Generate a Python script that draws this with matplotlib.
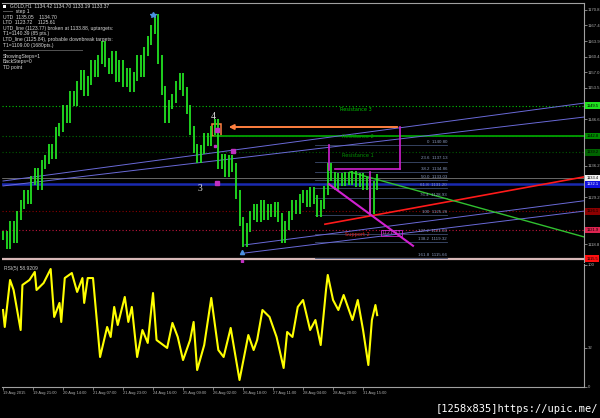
import numpy as np
import matplotlib
matplotlib.use('Agg')
import matplotlib.pyplot as plt
import matplotlib.transforms as mtrans
from matplotlib.patches import Rectangle

# GOLD H1 closes, one value every 2 bars (bar 0 = 19 Aug 2015)
bar_close = [1120.8, 1118.6, 1123.0, 1120.1, 1125.2, 1127.5, 1129.7, 1128.6, 1133.0, 1134.8,
             1131.9, 1136.4, 1137.5, 1140.1, 1138.6, 1143.7, 1144.6, 1148.6, 1146.8, 1151.9,
             1150.4, 1154.1, 1156.4, 1152.6, 1155.2, 1158.6, 1157.0, 1159.7, 1163.0, 1159.2,
             1157.5, 1160.8, 1155.7, 1158.6, 1154.8, 1157.0, 1153.5, 1156.1, 1159.7, 1157.0,
             1161.5, 1164.1, 1166.4, 1169.0, 1159.7, 1153.0, 1146.8, 1149.7, 1151.2, 1154.1,
             1155.7, 1152.6, 1148.6, 1144.1, 1140.1, 1137.9, 1139.7, 1142.4, 1141.5, 1144.1,
             1145.5, 1136.4, 1137.9, 1134.8, 1137.5, 1135.7, 1129.7, 1123.7, 1119.2, 1122.4,
             1125.2, 1126.8, 1124.6, 1127.5, 1125.2, 1126.8, 1125.9, 1127.2, 1124.6, 1120.1,
             1123.0, 1125.2, 1127.5, 1126.4, 1129.0, 1129.7, 1128.1, 1130.4, 1128.6, 1125.9,
             1127.5, 1130.8, 1135.7, 1133.9, 1131.7, 1133.5, 1132.6, 1133.9, 1133.0, 1134.1,
             1132.4, 1133.5, 1131.7, 1132.6, 1126.4, 1131.9, 1133.4]
bar_pos = np.arange(len(bar_close)) * 2

rsi_bar = [0, 1, 4, 6, 10, 11, 15, 18, 19, 23, 27, 29, 32, 33, 35, 39, 42, 45, 46, 48,
           51, 55, 59, 61, 63, 65, 69, 71, 73, 76, 79, 82, 85, 87, 93, 96, 99, 102, 106, 108,
           110, 114, 118, 122, 125, 129, 134, 139, 142, 144, 147, 151, 155, 159, 161, 164, 167, 170, 174, 177,
           180, 183, 184, 187, 190, 193, 195, 198, 201, 204, 207, 209, 211, 212]
rsi_val = [63.1, 49.2, 87.7, 79.5, 46.7, 83.6, 87.7, 94.3, 79.5, 85.2, 96.7, 57.4, 68.9, 53.3, 89.3, 93.4, 77.9, 89.3, 68.9, 89.3,
           89.3, 24.6, 49.2, 41.0, 65.6, 50.8, 73.8, 53.3, 65.6, 24.6, 46.7, 36.1, 77.0, 38.5, 32.0, 52.5, 41.0, 22.1, 38.5, 53.3,
           13.9, 34.4, 73.0, 30.3, 24.6, 48.4, 5.7, 42.6, 30.3, 38.5, 63.1, 57.4, 41.0, 15.6, 45.1, 41.0, 65.6, 71.3, 46.7, 54.9,
           34.4, 79.5, 91.8, 71.3, 63.1, 75.4, 67.2, 54.9, 71.3, 46.7, 18.0, 54.9, 67.2, 58.9]

time_ticks = [0, 17, 34, 51, 68, 85, 102, 119, 136, 153, 170, 187, 204]
time_labels = ['19 Aug 2015', '19 Aug 21:00', '20 Aug 14:00', '21 Aug 07:00', '21 Aug 23:00',
               '24 Aug 16:00', '25 Aug 09:00', '26 Aug 02:00', '26 Aug 18:00', '27 Aug 11:00',
               '28 Aug 04:00', '28 Aug 20:00', '31 Aug 15:00']

# scale labels not hidden behind the level boxes
price_ticks = [1170.85, 1167.38, 1163.91, 1160.44, 1156.97, 1153.50, 1146.56,
               1136.15, 1129.21, 1118.80]

# pivot levels and price lines
res3, res2, res1 = 1149.5, 1142.8, 1139.2
sup1, sup2, sup3 = 1126.1, 1121.9, 1115.5
bid = 1133.37
blue_level = 1132.1

fib_pct = ['0', '23.6', '38.2', '50.0', '61.8', '76.4', '100', '127.2', '138.2', '161.8']
fib_price = [1140.80, 1137.13, 1134.86, 1133.03, 1131.20, 1128.93, 1125.26, 1121.03, 1119.32, 1115.66]

# drawn trend lines (bar0, price0, bar1, price1)
chan_up = [(0, 1132.8, 329, 1150.1), (0, 1131.7, 329, 1147.0)]
chan_low = [(137, 1118.6, 329, 1128.4), (137, 1116.8, 329, 1126.1)]
red_line = (182.4, 1123.2, 329, 1133.7)
green_line = (196.6, 1134.8, 329, 1120.4)
magenta_line = (184.7, 1132.1, 232.3, 1118.4)

info_lines = ['     GOLD,H1  1134.42 1134.70 1133.19 1133.37',
              '——  step 1',
              'UTD  1135.05    1134.70',
              'LTD  1123.72    1125.61',
              'UTD_line (1123.77) broken at 1133.88, uptargets:',
              'T1=1140.39 (85 pts.)',
              'LTD_line (1125.84), probable downbreak targets:',
              'T1=1109.00 (1680pts.)',
              '————————————————',
              'ShowingSteps=1',
              'BackSteps=0',
              'TD point']

W, H = 600, 418
fig = plt.figure(figsize=(6, 4.18), dpi=100, facecolor='black')

def px2bar(x):
    return (x - 3) / 1.765

def py2price(y):
    return 1140.80 - (y - 145) / 4.5

ax = fig.add_axes([2 / W, 1 - 262 / H, 582 / W, 259 / H], facecolor='black')
ax.set_xlim(px2bar(2), px2bar(584))
ax.set_ylim(py2price(262), py2price(3))

# horizontal levels
ax.axhline(res3, color='#00c800', lw=0.8, ls=(0, (1, 2)))
ax.axhline(res2, color='#007000', lw=0.8, ls=(0, (1, 2)))
ax.plot([120, 330], [res2, res2], color='#00a000', lw=1.3)
ax.axhline(res1, color='#005a00', lw=0.8, ls=(0, (1, 2)))
ax.axhline(blue_level, color='#1a2ab0', lw=1.8)
ax.axhline(bid, color='#909090', lw=0.5)
ax.axhline(sup1, color='#8b0000', lw=0.8, ls=(0, (1, 2)))
ax.axhline(sup2, color='#c0143c', lw=0.8, ls=(0, (1, 2)))
ax.axhline(sup3, color='#d8b8b8', lw=1.6)

# fibo levels
for pct, p in zip(fib_pct, fib_price):
    ax.plot([176.8, 251.6], [p, p], color='#3e4c6e', lw=0.6)
    ax.text(251.6, p + 0.25, f'{pct}  {p:.2f}', color='#8898bb', fontsize=3.2,
            ha='right', va='bottom', family='Liberation Sans')

# channels and trend lines
for b0, p0, b1, p1 in chan_up + chan_low:
    ax.plot([b0, b1], [p0, p1], color='#6a6ad8', lw=0.7)
ax.plot(red_line[::2], red_line[1::2], color='#ff1a1a', lw=1.2)
ax.plot(green_line[::2], green_line[1::2], color='#30c030', lw=1.0)

# candles
prev = np.r_[bar_close[0], bar_close[:-1]]
cur = np.array(bar_close)
lo = np.minimum(prev, cur) - 1.0
hi = np.maximum(prev, cur) + 1.0
ax.vlines(bar_pos, lo, hi, color='#22e022', lw=1.3)

# magenta construction
ax.plot(magenta_line[::2], magenta_line[1::2], color='#d020d0', lw=1.5)
ax.plot([184.7, 184.7], [1140.8, 1135.2], color='#d020d0', lw=1.2)
ax.plot([207.9, 207.9], [1134.8, 1125.26], color='#d020d0', lw=1.2)
ax.plot([188, 225], [1135.5, 1135.5], color='#d020d0', lw=1.2)
ax.plot([225, 225], [1144.8, 1135.5], color='#d020d0', lw=1.2)
ax.annotate('', xy=(126.3, 1144.8), xytext=(225, 1144.8),
            arrowprops=dict(arrowstyle='-|>', color='#ff8040', lw=1.4, mutation_scale=7))
ax.add_patch(Rectangle((118.6, 1142.9), 5.0, 2.6, fill=False, ec='#ff8040', lw=1.1))
ax.plot([121.2], [1144.1], 's', color='#c030c0', ms=2.5)
ax.plot([120.1], [1140.6], 's', color='#c030c0', ms=1.5)
ax.plot([130.3], [1139.5], 's', color='#c030c0', ms=3)
ax.plot([121.2], [1132.4], 's', color='#c030c0', ms=3)
ax.plot([135.4], [1115.1], 's', color='#c030c0', ms=1.8)
ax.plot([85], [1169.6], '*', color='#4a90e0', ms=4)
ax.plot([135.4], [1117.0], '^', color='#4a90e0', ms=3)

ax.text(119, 1146.6, '4', color='#e0e0e0', fontsize=7, family='Liberation Serif', ha='center')
ax.text(111.6, 1130.5, '3', color='#e0e0e0', fontsize=7, family='Liberation Serif', ha='center')

ax.text(191, 1149.2, 'Resistance 3', color='#00c000', fontsize=3.6, va='top')
ax.text(192, 1142.6, 'Resistance 2', color='#00a000', fontsize=3.6, va='center')
ax.text(192, 1138.4, 'Resistance 1', color='#009000', fontsize=3.6, va='center')
ax.text(194, 1120.9, 'Support 2', color='#e02020', fontsize=3.6, va='center')
ax.text(214.5, 1121.3, '1121.03', color='#d040d0', fontsize=3.4, va='center',
        bbox=dict(boxstyle='square,pad=0.1', fc='none', ec='#d020d0', lw=0.6))

# right price scale
ax.yaxis.tick_right()
ax.set_yticks(price_ticks)
ax.set_yticklabels([f'{v:.1f}' for v in price_ticks], family='Liberation Sans')
ax.tick_params(axis='y', length=2, width=0.5, colors='#b0b0b0', labelsize=3.1, pad=0.8)
ax.set_xticks([])
for s in ['left', 'bottom']:
    ax.spines[s].set_visible(False)
for s in ['top', 'right']:
    ax.spines[s].set_color('#a0a0a0')
    ax.spines[s].set_linewidth(0.8)

tr = mtrans.blended_transform_factory(ax.transAxes, ax.transData)
boxes = [(res3, '#20e020', 'black'), (res2, '#008a00', 'black'), (res1, '#006400', 'black'),
         (bid, '#f0f0f0', 'black'), (blue_level, '#1010e0', 'white'), (sup1, '#8b0000', 'black'),
         (sup2, '#dc2450', 'black'), (sup3, '#ff1010', 'black')]
for lvl, fc, tc in boxes:
    ax.text(1.004, lvl, f'{lvl:.1f}', transform=tr, fontsize=2.9, color=tc, ha='left', va='center',
            family='Liberation Sans',
            bbox=dict(boxstyle='square,pad=0.35', fc=fc, ec='none'), clip_on=False)

# info block
for n, line in enumerate(info_lines):
    fig.text(3 / W, 1 - (6 + n * 5.6) / H, line, color='#d8d8d8', fontsize=3.6,
             va='center', family='Liberation Sans')
fig.patches.append(Rectangle((3 / W, 1 - 7.5 / H), 3 / W, 3 / H, transform=fig.transFigure,
                             fc='white', ec='none'))

# RSI window
ax2 = fig.add_axes([2 / W, 1 - 387 / H, 582 / W, 123 / H], facecolor='black')
ax2.set_xlim(px2bar(2), px2bar(584))
ax2.set_ylim(0, 100.8)
ax2.plot(rsi_bar, rsi_val, color='#ffff00', lw=1.5)
ax2.text(0.003, 0.985, 'RSI(5) 58.9209', transform=ax2.transAxes, color='#c8c8c8',
         fontsize=3.6, va='top', family='Liberation Sans')
ax2.yaxis.tick_right()
ax2.set_yticks([0, 32, 100])
ax2.set_yticklabels(['0', '32', '100'], family='Liberation Sans')
ax2.tick_params(axis='y', length=2, width=0.5, colors='#b0b0b0', labelsize=3.1, pad=0.8)
ax2.set_xticks(time_ticks)
ax2.set_xticklabels(time_labels, ha='left', family='Liberation Sans')
ax2.tick_params(axis='x', length=2, width=0.5, colors='#b0b0b0', labelsize=2.9, pad=1)
for s in ['left', 'top']:
    ax2.spines[s].set_visible(False)
for s in ['bottom', 'right']:
    ax2.spines[s].set_color('#a0a0a0')
    ax2.spines[s].set_linewidth(0.8)

fig.text(598 / W, 1 - 409 / H, '[1258x835]https://upic.me/', color='white', fontsize=7.5,
         ha='right', va='center', family='DejaVu Sans Mono')

fig.savefig('out.png', dpi=100, facecolor='black')
